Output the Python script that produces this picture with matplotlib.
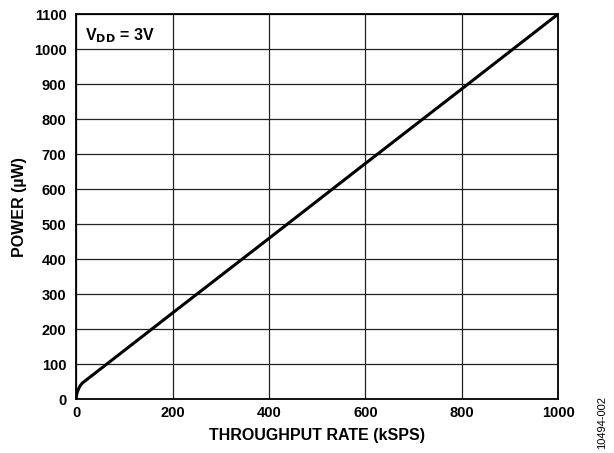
import matplotlib
matplotlib.use("Agg")
import matplotlib.pyplot as plt

plt.rcParams['font.family'] = ['Liberation Sans', 'DejaVu Sans']

throughput = [0, 1, 2, 4, 6, 8, 10, 13, 100, 200, 400, 600, 800, 1000]
power = [0, 12, 18, 26, 32, 37, 41, 46, 139, 246, 459, 673, 886, 1100]
xticks = [0, 200, 400, 600, 800, 1000]
yticks = list(range(0, 1101, 100))

fig = plt.figure(figsize=(6.14, 4.53), dpi=100)
ax = fig.add_axes([0.124, 0.119, 0.785, 0.850])
ax.plot(throughput, power, color='black', lw=2.2, solid_joinstyle='round')
ax.set_xlim(0, 1000)
ax.set_ylim(0, 1100)
ax.set_xticks(xticks)
ax.set_yticks(yticks)
ax.grid(True, color='#222222', lw=0.9)
ax.tick_params(length=0, labelsize=10.5)
ax.tick_params(axis='y', pad=7)
ax.tick_params(axis='x', pad=5)
for lab in ax.get_xticklabels() + ax.get_yticklabels():
    lab.set_fontweight('bold')
for s in ax.spines.values():
    s.set_linewidth(1.3)
ax.set_xlabel('THROUGHPUT RATE (kSPS)', fontsize=11.5, fontweight='bold', labelpad=6)
ax.set_ylabel('POWER (µW)', fontsize=11.5, fontweight='bold', labelpad=5)
ax.text(0.018, 0.968, r'V$_{\mathbf{DD}}$ = 3V', transform=ax.transAxes, fontsize=11.5,
        fontweight='bold', va='top', ha='left')
fig.text(0.980, 0.008, '10494-002', rotation=90, fontsize=8, ha='center', va='bottom')
fig.savefig('out.png', dpi=100)
